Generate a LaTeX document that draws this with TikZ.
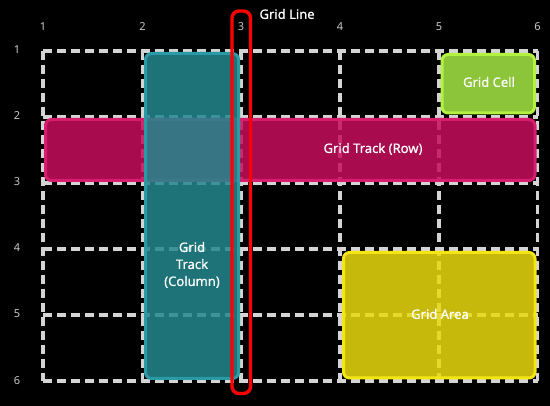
\documentclass[tikz,border=0pt]{standalone}
\usepackage{fontspec}
\setmainfont{Noto Sans}
\definecolor{gridc}{HTML}{D4D4D4}
\definecolor{numc}{HTML}{C8C8C8}
\definecolor{tealf}{HTML}{24888E}
\definecolor{teald}{HTML}{2A9AA4}
\definecolor{magf}{HTML}{C60F5E}
\definecolor{magd}{HTML}{D81C6E}
\definecolor{greenf}{HTML}{8DC53A}
\definecolor{greend}{HTML}{B4F240}
\definecolor{yelf}{HTML}{EBDA0F}
\definecolor{yeld}{HTML}{F4E612}
\begin{document}
\begin{tikzpicture}[x=1pt,y=-1pt,
  gline/.style={draw=gridc,line width=3.2pt,dash pattern=on 9pt off 5pt},
  num/.style={text=numc,font=\fontsize{11}{13}\selectfont},
  area/.style={rounded corners=6pt,line width=3pt,fill opacity=0.85,draw opacity=1},
  lbl/.style={text=white,font=\fontsize{13}{17}\selectfont\addfontfeatures{FakeBold=0.6},align=center},
]
\fill[black] (0,0) rectangle (550,406);
\useasboundingbox (0,0) rectangle (550,406);
% grid lines
\foreach \x in {43,142.5,241,340,439,537.5} {\draw[gline] (\x,51) -- (\x,381);}
\foreach \y in {51,117,183,249,315,381} {\draw[gline] (43,\y) -- (537.5,\y);}
% labels
\foreach \x/\t in {43/1,142.5/2,241/3,340/4,439/5,537.5/6} {\node[num] (c\t) at (\x,27) {\t};}
\foreach \y/\t in {50/1,116/2,182/3,248/4,314/5,381/6} {\node[num] (r\t) at (17,\y) {\t};}
% areas
\path[area,draw=magd,fill=magf] (45.5,119.5) rectangle (535,180.5);
\node[lbl] (row) at (373,149) {Grid Track (Row)};
\path[area,draw=teald,fill=tealf] (145.5,53.5) rectangle (238.5,378.5);
\node[lbl] (col) at (192,265) {Grid\\Track\\(Column)};
\path[area,draw=greend,fill=greenf,fill opacity=1] (442,54.5) rectangle (534.5,113);
\node[lbl] (cell) at (489,82) {Grid Cell};
\path[area,draw=yeld,fill=yelf] (343.5,252.5) rectangle (535,378);
\node[lbl] (garea) at (440,314) {Grid Area};
% grid line highlight
\draw[red,line width=3.4pt,rounded corners=7pt] (232,11) rectangle (250.5,393.5);
\node[lbl,anchor=west] (gl) at (256,14) {Grid Line};
\end{tikzpicture}
\end{document}
